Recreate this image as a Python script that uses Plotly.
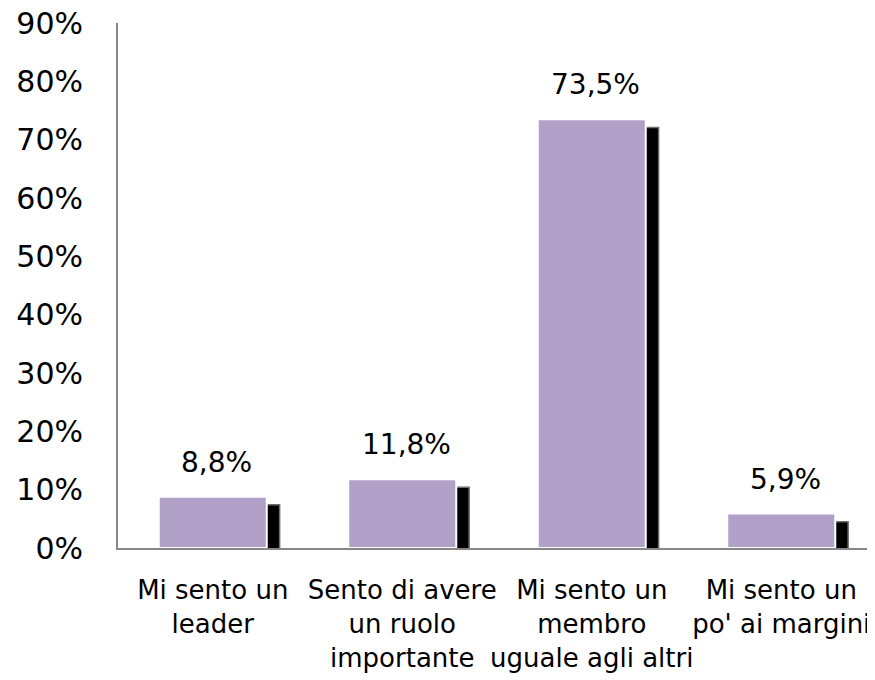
import plotly.graph_objects as go

categories = ["Mi sento un<br>leader", "Sento di avere<br>un ruolo<br>importante",
              "Mi sento un<br>membro<br>uguale agli altri", "Mi sento un<br>po' ai margini"]
values = [8.8, 11.8, 73.5, 5.9]
tick_vals = [0, 10, 20, 30, 40, 50, 60, 70, 80, 90]
tick_text = ["0%", "10%", "20%", "30%", "40%", "50%", "60%", "70%", "80%", "90%"]

x_idx = list(range(len(categories)))
labels = [f"{v:.1f}".replace(".", ",") + "%" for v in values]

BAR_W = 0.57
SHADOW_DX = 0.068
SHADOW_DY = 1.4

fig = go.Figure()
# shadow
fig.add_trace(go.Bar(
    x=x_idx, y=values, base=[-SHADOW_DY] * len(values),
    width=BAR_W, offset=-BAR_W / 2 + SHADOW_DX,
    marker=dict(color="#000000", line=dict(color="#6e6e6e", width=1.5)),
    hoverinfo="skip", showlegend=False,
))
# main bars
fig.add_trace(go.Bar(
    x=x_idx, y=values,
    width=BAR_W, offset=-BAR_W / 2,
    marker=dict(color="#B1A0C7", line=dict(color="#FFFFFF", width=2)),
    showlegend=False,
))

for i, (v, t) in enumerate(zip(values, labels)):
    fig.add_annotation(x=i + 0.02, y=v, text=t, showarrow=False, yanchor="bottom",
                       yshift=16, font=dict(family="DejaVu Sans", size=28, color="#000000"))

fig.update_layout(
    width=875, height=680,
    margin=dict(l=110, r=7, t=15, b=140),
    plot_bgcolor="white", paper_bgcolor="white",
    barmode="overlay",
    font=dict(family="DejaVu Sans", color="#000000"),
)
fig.update_xaxes(
    tickmode="array", tickvals=x_idx, ticktext=categories,
    range=[-0.5, len(categories) - 0.5],
    showline=True, linecolor="#878787", linewidth=2,
    ticks="", showgrid=False, zeroline=False, automargin=False,
    tickangle=0, ticklabelstandoff=18, ticklabeloverflow="allow",
    tickfont=dict(family="DejaVu Sans", size=26, color="#000000"),
)
fig.update_yaxes(
    range=[0, 90], tickmode="array", tickvals=tick_vals, ticktext=tick_text,
    showline=True, linecolor="#878787", linewidth=2,
    ticks="", showgrid=False, zeroline=False, automargin=False,
    ticklabelstandoff=27, ticklabeloverflow="allow",
    tickfont=dict(family="DejaVu Sans", size=30, color="#000000"),
)

fig.write_html("out.html")
